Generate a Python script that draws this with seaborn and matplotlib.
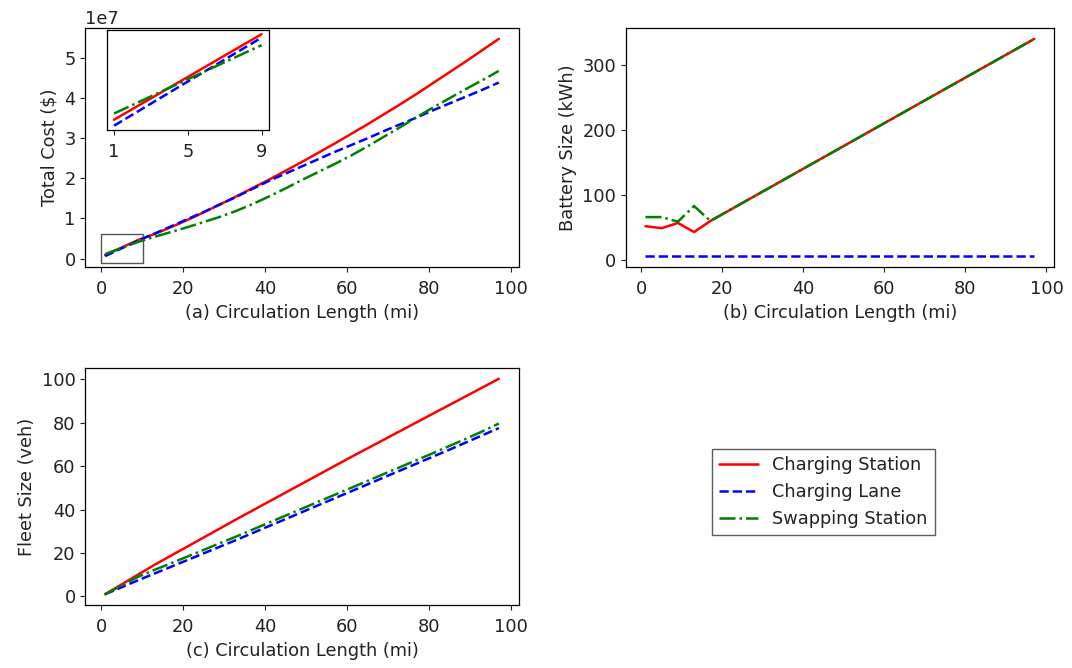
import matplotlib
matplotlib.use("Agg")
import matplotlib.pyplot as plt
import seaborn as sns
import numpy as np
import pandas as pd
from matplotlib.patches import Rectangle

# ---------------- data ----------------
length = [1, 5, 9, 13, 17, 21, 25, 29, 33, 37, 41, 45, 49, 53, 57, 61, 65, 69, 73, 77, 81, 85, 89, 93, 97]
series = ["Charging Station", "Charging Lane", "Swapping Station"]

# total cost (x 1e7 $)
cost_station = [0.086, 0.273, 0.46, 0.61, 0.78, 0.96, 1.15, 1.35, 1.55, 1.76, 1.97, 2.19, 2.41, 2.64, 2.87, 3.11, 3.35, 3.60, 3.85, 4.11, 4.38, 4.65, 4.92, 5.20, 5.48]
cost_lane = [0.06, 0.253, 0.445, 0.62, 0.80, 0.98, 1.16, 1.35, 1.54, 1.74, 1.94, 2.12, 2.30, 2.48, 2.66, 2.83, 3.00, 3.18, 3.35, 3.52, 3.70, 3.87, 4.04, 4.21, 4.39]
cost_swap = [0.113, 0.263, 0.412, 0.54, 0.66, 0.78, 0.91, 1.04, 1.19, 1.36, 1.55, 1.75, 1.96, 2.16, 2.36, 2.57, 2.80, 3.04, 3.28, 3.53, 3.77, 4.00, 4.23, 4.45, 4.68]

# battery size (kWh)
batt_station = [52, 49, 57, 43, 60, 74, 88, 102, 116, 130, 144, 158, 172, 186, 200, 214, 228, 242, 256, 270, 284, 298, 312, 326, 340]
batt_lane = [6, 6, 6, 6, 6, 6, 6, 6, 6, 6, 6, 6, 6, 6, 6, 6, 6, 6, 6, 6, 6, 6, 6, 6, 6]
batt_swap = [66, 66, 59, 83, 60, 74, 88, 102, 116, 130, 144, 158, 172, 186, 200, 214, 228, 242, 256, 270, 284, 298, 312, 326, 340]

# fleet size (veh)
fleet_station = [1.0, 5.5, 10.0, 14.5, 18.7, 22.9, 27.1, 31.3, 35.5, 39.6, 43.7, 47.8, 51.9, 56.0, 60.1, 64.2, 68.2, 72.2, 76.2, 80.2, 84.2, 88.2, 92.2, 96.2, 100.2]
fleet_lane = [1.0, 4.2, 7.4, 10.5, 13.6, 16.7, 19.8, 22.9, 26.0, 29.2, 32.4, 35.6, 38.8, 42.0, 45.2, 48.4, 51.6, 54.8, 58.0, 61.2, 64.4, 67.6, 70.9, 74.2, 77.5]
fleet_swap = [1.0, 5.0, 9.0, 12.2, 15.2, 18.3, 21.4, 24.5, 27.6, 30.8, 34.0, 37.2, 40.4, 43.6, 46.8, 50.0, 53.2, 56.4, 59.6, 62.8, 66.0, 69.3, 72.6, 76.0, 79.6]

inset_n = 3  # lengths 1, 5, 9

# ---------------- style ----------------
sns.set_style("ticks")
plt.rcParams["font.family"] = ["DejaVu Sans"]
plt.rcParams["axes.edgecolor"] = "black"
plt.rcParams["xtick.color"] = "#222222"
plt.rcParams["ytick.color"] = "#222222"
plt.rcParams["text.color"] = "#222222"
plt.rcParams["axes.labelcolor"] = "#222222"

colors = {"Charging Station": "#ff0000", "Charging Lane": "#0000ff", "Swapping Station": "#008000"}
styles = {"Charging Station": "-", "Charging Lane": "--", "Swapping Station": "-."}
FS = 12.8
LW = 1.8

fig = plt.figure(figsize=(10.72, 6.68), dpi=100)
ax_a = fig.add_axes([0.0797, 0.6003, 0.404, 0.3578])
ax_b = fig.add_axes([0.584, 0.6003, 0.399, 0.3578])
ax_c = fig.add_axes([0.0797, 0.0943, 0.404, 0.3548])


def draw(ax, ys, scale=1.0, n=None):
    for name, y in zip(series, ys):
        xx = length if n is None else length[:n]
        yy = y if n is None else y[:n]
        df = pd.DataFrame({"L": xx, "v": np.array(yy) * scale})
        sns.lineplot(data=df, x="L", y="v", ax=ax, color=colors[name],
                     linestyle=styles[name], linewidth=LW, label=name, legend=False)


draw(ax_a, [cost_station, cost_lane, cost_swap], scale=1e7)
draw(ax_b, [batt_station, batt_lane, batt_swap])
draw(ax_c, [fleet_station, fleet_lane, fleet_swap])

for ax, xl, yl in [(ax_a, "(a) Circulation Length (mi)", r"Total Cost (\$)"),
                   (ax_b, "(b) Circulation Length (mi)", "Battery Size (kWh)"),
                   (ax_c, "(c) Circulation Length (mi)", "Fleet Size (veh)")]:
    ax.set_xlabel(xl, fontsize=FS, labelpad=4)
    ax.set_ylabel(yl, fontsize=FS)
    ax.set_xticks([0, 20, 40, 60, 80, 100])
    ax.tick_params(labelsize=FS)
    ax.tick_params(axis="x", pad=6)
    for s in ax.spines.values():
        s.set_visible(True)
        s.set_linewidth(0.9)

ax_a.yaxis.get_offset_text().set_fontsize(FS)
ax_b.set_yticks([0, 100, 200, 300])
ax_c.set_yticks([0, 20, 40, 60, 80, 100])

# zoom indicator
ax_a.add_patch(Rectangle((0, -0.1e7), 10.2, 0.72e7, fill=False, edgecolor="#555555", linewidth=1.0))

# inset
ax_in = fig.add_axes([0.0995, 0.805, 0.1514, 0.1507])
draw(ax_in, [cost_station, cost_lane, cost_swap], scale=1e7, n=inset_n)
ax_in.set_xticks([1, 5, 9])
ax_in.set_yticks([])
ax_in.set_xlabel("")
ax_in.set_ylabel("")
ax_in.tick_params(labelsize=FS)
ax_in.tick_params(axis="x", pad=6)
for s in ax_in.spines.values():
    s.set_visible(True)
    s.set_linewidth(0.9)

# legend
handles, labels = ax_c.get_legend_handles_labels()
fig.legend(handles, labels, loc="center", bbox_to_anchor=(0.768, 0.263), fontsize=FS,
           frameon=True, fancybox=False, edgecolor="#333333", handlelength=2.2)

fig.savefig("out.png", dpi=100)
